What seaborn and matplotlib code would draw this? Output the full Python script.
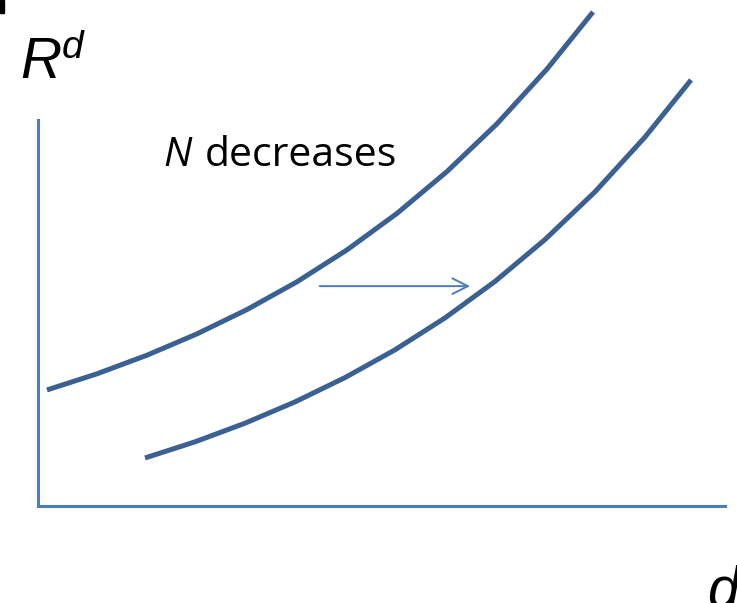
import numpy as np
import pandas as pd
import matplotlib
matplotlib.use('Agg')
import matplotlib.pyplot as plt
import seaborn as sns

# 曲线数据
d_before = [0.131, 0.859, 1.587, 2.314, 3.042, 3.770, 4.498, 5.226, 5.953, 6.681, 7.409, 8.079]
r_before = [1.689, 1.924, 2.195, 2.505, 2.859, 3.263, 3.728, 4.259, 4.868, 5.563, 6.360, 7.191]
d_after = [1.558, 2.286, 3.014, 3.741, 4.469, 5.197, 5.925, 6.653, 7.380, 8.108, 8.836, 9.506]
r_after = [0.699, 0.934, 1.205, 1.515, 1.869, 2.273, 2.738, 3.269, 3.878, 4.573, 5.370, 6.201]

# 箭头（N 减小时曲线右移）
arrow_d = [4.10, 6.29]
arrow_r = 3.20

curve_color = '#3b6192'
axis_color = '#4a7ebb'

sns.set_style('white')
plt.rcParams['font.family'] = ['Liberation Sans', 'DejaVu Sans']
plt.rcParams['text.color'] = 'black'

fig = plt.figure(figsize=(7.37, 6.03), dpi=100)
ax = fig.add_axes([0, 0, 1, 1])

df = pd.concat([
    pd.DataFrame({'d': d_before, 'R': r_before, 'curve': 'before'}),
    pd.DataFrame({'d': d_after, 'R': r_after, 'curve': 'after'}),
])
sns.lineplot(data=df, x='d', y='R', units='curve', estimator=None, sort=False,
             color=curve_color, linewidth=3.6, ax=ax, legend=False,
             solid_joinstyle='round', solid_capstyle='butt')

ax.annotate('', xy=(arrow_d[1], arrow_r), xytext=(arrow_d[0], arrow_r),
            arrowprops=dict(arrowstyle='->', color=axis_color, lw=1.4,
                            mutation_scale=28, shrinkA=0, shrinkB=0))

ax.set_xlim(-0.553, 10.175)
ax.set_ylim(-1.412, 7.365)
ax.set_xticks([])
ax.set_yticks([])
ax.set_xlabel('')
ax.set_ylabel('')
for s in ['top', 'right']:
    ax.spines[s].set_visible(False)
for s in ['left', 'bottom']:
    ax.spines[s].set_position(('data', 0))
    ax.spines[s].set_color(axis_color)
    ax.spines[s].set_linewidth(2.2)
ax.spines['left'].set_bounds(0, 5.62)
ax.spines['bottom'].set_bounds(0, 10.0)
ax.patch.set_alpha(0)

# 文字
ax.text(-0.26, 6.23, 'R', fontsize=41, style='italic', va='baseline', color='black')
ax.text(0.35, 6.52, 'd', fontsize=28, style='italic', va='baseline', color='black')
ax.text(1.82, 4.95, 'N', fontsize=29, style='italic', va='baseline', color='black',
        family=['Open Sans', 'DejaVu Sans'])
ax.text(2.43, 4.95, 'decreases', fontsize=29.5, va='baseline', color='black',
        family=['Open Sans', 'DejaVu Sans'])
ax.text(9.74, -1.46, 'd', fontsize=41, style='italic', va='baseline', color='black')

# 左上角的小黑块
fig.patches.append(plt.Rectangle((0, 1 - 13 / 603), 4 / 737, 13 / 603,
                                 transform=fig.transFigure, color='black'))

fig.savefig('out.png', dpi=100)
plt.close()
